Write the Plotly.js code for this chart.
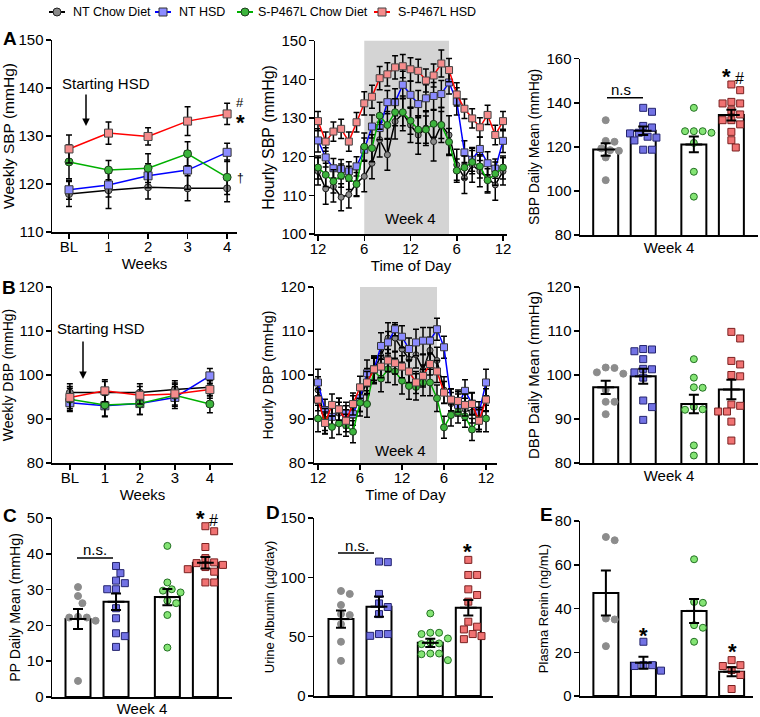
<!DOCTYPE html>
<html>
<head>
<meta charset="utf-8">
<script src="https://cdn.plot.ly/plotly-3.0.1.min.js"></script>
<style>body{margin:0;background:#fff}#chart{width:760px;height:717px}</style>
</head>
<body>
<div id="chart"></div>
<script>
// ---------- data (group order: NT Chow, NT HSD, S-P467L Chow, S-P467L HSD) ----------
var groups = ['NT Chow Diet', 'NT HSD', 'S-P467L Chow Diet', 'S-P467L HSD'];
var weeks = ['BL', '1', '2', '3', '4'];
var hourTicks = [0, 6, 12, 18, 24];
var hourLabels = ['12', '6', '12', '6', '12'];
var nightStart = 6, nightEnd = 17;

// A: weekly SBP
var sbpWeekMean = [
  [117.9, 118.7, 119.3, 119.1, 119.1],
  [118.8, 119.8, 121.7, 122.9, 126.6],
  [124.6, 122.9, 123.3, 126.3, 121.4],
  [127.3, 130.6, 129.9, 133.1, 134.6]
];
var sbpWeekSem = [
  [2.6, 3.8, 2.4, 2.6, 2.8],
  [2.0, 2.5, 2.5, 4.0, 1.9],
  [3.5, 2.0, 3.0, 2.5, 3.6],
  [2.9, 2.3, 1.8, 3.0, 2.2]
];

// A: hourly SBP, week 4 (noon to noon)
var sbpHourNtChow = [116.2,111.7,112.3,109.5,110.2,113.2,114.9,118.3,124.4,120.5,129.1,131.2,128.2,125.6,127.4,123.9,128.2,125.6,117.9,114.5,117.9,116.2,114.6,112.7,116.2];
var sbpHourNtHsd  = [124.2,119.8,117.0,116.8,116.2,117.5,121.8,127.8,127.4,134.1,134.1,138.6,136.0,133.6,135.1,135.7,136.2,139.2,134.3,121.1,119.2,122.0,118.3,116.9,124.1];
var sbpHourSChow  = [117.2,115.3,113.6,115.1,114.5,112.9,122.6,122.2,130.6,128.2,131.5,131.5,129.3,127.0,127.0,128.5,128.2,123.8,116.4,117.2,118.6,117.5,113.9,115.6,117.2];
var sbpHourSHsd   = [129.2,123.9,126.5,127.2,123.9,128.9,133.8,135.5,140.3,141.3,143.1,143.4,142.6,142.2,139.7,141.0,144.1,142.4,136.1,132.4,129.9,127.6,130.8,125.6,129.2];
var sbpHourSemNtChow = [3.5,4,4,3.5,3.5,3.5,4,4,4.5,4,4.5,4.5,4.5,5,4.5,5,4.5,5,4,4,4.5,4,4,4,3.5];
var sbpHourSemNtHsd  = [3,2.5,2.5,2.5,2.5,2.5,3,3,3,3,3.5,3.5,3.5,3.5,3.5,3.5,3.5,3,3.5,3,3,3,3,2.5,3];
var sbpHourSemSChow  = [3,3,3,3,3,3,3.5,3.5,3.5,3.5,3.5,3.5,3.5,3.5,3.5,3.5,3.5,3.5,3,3,3,3,3,3,3];
var sbpHourSemSHsd   = [2.5,2.5,2.5,2.5,2.5,2.5,3,3,3,3,3,3,3,3,3,3,3.5,3,3,2.5,2.5,2.5,2.5,2.5,2.5];

// A: SBP daily mean, week 4
var sbpDayNtChow = [132.1,122.7,122.3,119.3,118.5,118.2,115.2,104.9];
var sbpDayNtHsd  = [137.7,135.9,129.5,128.8,126.4,126.1,124.6,124.2,122.9,118.7,118.7];
var sbpDaySChow  = [137.7,127.1,127.1,127.1,126.4,121.8,108.7,97.4];
var sbpDaySHsd   = [148.3,145.7,140.4,139.7,139.7,136.6,134.7,132.1,132.1,130.2,126.8,123.0,119.7];
var sbpDayMean = [118.8, 127.3, 121.1, 134.4];
var sbpDaySem  = [2.8, 1.9, 3.6, 2.4];

// B: weekly DBP
var dbpWeekMean = [
  [96.0, 96.0, 96.0, 96.7, 97.2],
  [93.7, 93.0, 93.5, 94.9, 99.8],
  [94.5, 93.2, 93.5, 95.4, 93.4],
  [94.9, 96.4, 95.4, 95.7, 96.7]
];
var dbpWeekSem = [
  [2.0, 2.5, 2.0, 2.0, 2.0],
  [2.0, 2.5, 2.5, 2.5, 1.7],
  [2.5, 2.5, 2.5, 2.5, 2.0],
  [2.5, 2.5, 2.0, 2.5, 2.0]
];

// B: hourly DBP, week 4
var dbpHourNtChow = [96.6,89.7,90.5,91.3,90.5,92.8,94.7,98.5,101.3,104.3,108.4,108.4,105.9,103.6,104.6,101.1,105.6,103.3,96.6,93.5,93.7,92.2,91.6,90.1,94.7];
var dbpHourNtHsd  = [98.3,92.0,90.5,92.2,91.3,91.1,94.7,100.4,101.3,106.6,107.4,110.4,108.7,105.9,107.4,107.8,107.8,110.4,106.3,94.3,93.2,96.4,93.5,91.4,98.3];
var dbpHourSChow  = [90.1,89.9,88.2,89.0,88.6,87.1,93.7,93.4,101.0,99.2,101.3,100.8,98.7,97.5,97.3,98.3,98.3,94.7,88.1,90.9,91.6,90.6,87.6,90.1,90.1];
var dbpHourSHsd   = [94.4,89.1,93.2,92.2,89.6,93.4,97.2,98.3,101.3,101.9,103.3,102.7,101.9,100.8,98.3,99.8,102.5,100.8,96.0,94.4,94.1,93.2,93.4,89.6,94.4];
var dbpHourSemNtChow = [3,3,2.5,2.5,2.5,2.5,3,3,3,3,3.5,3,3,3,3,3.5,3,3,3,2.5,2.5,2.5,2.5,2.5,3];
var dbpHourSemNtHsd  = [3,2.5,2.5,2.5,2.5,2.5,3,3,3,3,2.5,1.5,2.5,2.5,3,3,3,2.5,2.5,2.5,2.5,2.5,2.5,2.5,3];
var dbpHourSemSChow  = [3,2.5,2.5,2.5,2.5,2.5,3,3,3,3,3,3,3,3,3,3,3,3,2.5,2.5,2.5,2.5,2.5,2.5,3];
var dbpHourSemSHsd   = [2.5,2.5,2.5,2.5,2.5,2.5,2.5,2.5,2.5,2.5,2.5,2.5,2.5,2.5,2.5,2.5,2.5,2.5,2.5,2.5,2.5,2.5,2.5,2.5,2.5];

// B: DBP daily mean, week 4
var dbpDayNtChow = [101.6,101.7,100.3,100.6,96.6,93.9,93.9,91.1];
var dbpDayNtHsd  = [105.4,105.8,105.9,103.6,100.6,101.4,101.3,99.4,94.2,92.7,89.8];
var dbpDaySChow  = [103.6,99.4,97.1,97.2,92.2,92.8,92.1,84.0,81.7];
var dbpDaySHsd   = [109.8,108.3,103.2,102.4,99.7,100.0,93.0,93.3,91.7,91.7,89.4,85.1];
var dbpDayMean = [97.2, 99.7, 93.4, 96.7];
var dbpDaySem  = [1.5, 1.7, 2.1, 2.2];

// C: pulse pressure daily mean
var ppNtChow = [30.7,28.2,26.2,22.2,22.4,22.2,21.3,4.5];
var ppNtHsd  = [36.6,34.6,32.5,31.8,30.1,30.1,24.8,22.0,17.8,17.0,14.0];
var ppSChow  = [42.2,32.0,30.1,29.7,29.2,26.9,26.2,22.9,13.8];
var ppSHsd   = [47.7,46.3,41.9,38.8,37.6,37.4,36.9,36.3,35.7,35.0,32.0,32.0];
var ppMean = [21.8, 26.6, 27.9, 37.5];
var ppSem  = [2.8, 2.3, 2.3, 1.6];

// D: urine albumin
var albNtChow = [88.5,86.0,76.7,69.0,68.2,60.6,45.7,29.6];
var albNtHsd  = [113.3,112.8,86.0,78.0,75.0,69.0,52.2,52.2,50.7];
var albSChow  = [69.6,53.3,53.3,52.2,48.5,45.0,44.3,43.7,35.8,35.8,35.2,30.2];
var albSHsd   = [114.7,102.0,102.0,89.9,85.1,79.5,62.6,58.4,56.1,52.2,50.5,47.9];
var albMean = [64.8, 75.3, 44.8, 74.4];
var albSem  = [7.3, 8.5, 3.5, 6.6];

// E: plasma renin
var reninNtChow = [72.7,71.2,35.4,35.0,22.8];
var reninNtHsd  = [24.8,14.1,14.1,13.7,11.6];
var reninSChow  = [62.5,43.0,42.6,32.4,31.2,24.8];
var reninSHsd   = [16.4,14.1,13.7,11.9,9.6,3.2];
var reninMean = [47.1, 15.2, 38.9, 11.1];
var reninSem  = [10.3, 2.7, 5.5, 2.1];

// ---------- styles / layout helpers ----------
var W = 760, H = 717;
var FONT = 'Liberation Sans, Arial, sans-serif';
var lineColor = ['#000000', '#0000ff', '#00b000', '#ff0000'];
var lineSymbol = ['circle', 'square', 'circle', 'square'];
var lineFill = ['#8a8a8a', '#8c8cff', '#3cb43c', '#f58c8c'];
var lineEdge = ['#222222', '#333333', '#1c3c1c', '#444444'];
var dotFill = ['#8c8c8c', '#7272e4', '#84e474', '#f07272'];
var dotEdge = ['#8c8c8c', '#24246e', '#237023', '#7a2020'];
var barX = [0, 1, 2.35, 3.35];
var hours = [];
for (var h = 0; h <= 24; h++) hours.push(h);

function xd(a, b) { return [a / W, b / W]; }
function yd(top, bottom) { return [1 - bottom / H, 1 - top / H]; }

var panels = {
  A1: {x: [52, 237], y: [40, 232],    xr: [-0.43, 4.25],  yr: [110, 150]},
  A2: {x: [315, 507], y: [40.7, 234], xr: [-0.39, 24.52], yr: [100, 150]},
  A3: {x: [580, 758], y: [58.7, 235], xr: [-0.685, 4.06], yr: [80, 160]},
  B1: {x: [52, 233], y: [287, 463],   xr: [-0.51, 4.66],  yr: [80, 120]},
  B2: {x: [314, 497], y: [287, 463],  xr: [-0.57, 25.57], yr: [80, 120]},
  B3: {x: [580, 758], y: [287, 463],  xr: [-0.685, 4.06], yr: [80, 120]},
  C:  {x: [52, 232], y: [518, 697],   xr: [-0.684, 4.05], yr: [0, 50]},
  D:  {x: [314, 493], y: [518, 696],  xr: [-0.71, 4.0],   yr: [0, 150]},
  E:  {x: [580, 753], y: [521, 696],  xr: [-0.69, 3.92],  yr: [0, 80]}
};

function lineTraces(means, sems, xs, xa, ya, size) {
  return means.map(function (m, g) {
    return {
      type: 'scatter', mode: 'lines+markers', x: xs, y: m, xaxis: xa, yaxis: ya,
      name: groups[g], showlegend: false, cliponaxis: false,
      line: {color: lineColor[g], width: 1.5},
      marker: {symbol: lineSymbol[g], size: g === 0 ? size - 1 : size, color: lineFill[g],
               line: {color: lineEdge[g], width: 1}},
      error_y: {type: 'data', array: sems[g], color: '#000', thickness: 1.5, width: 3}
    };
  });
}

// simple beeswarm so points in one column do not overlap
function swarm(values, p) {
  var pxPerY = (p.y[1] - p.y[0]) / (p.yr[1] - p.yr[0]);
  var pxPerX = (p.x[1] - p.x[0]) / (p.xr[1] - p.xr[0]);
  var d = 8, step = 4.4, placed = [], offs = [];
  var order = values.map(function (v, i) { return i; })
    .sort(function (a, b) { return values[b] - values[a]; });
  order.forEach(function (i) {
    var y = values[i] * pxPerY;
    for (var k = 0; k < 30; k++) {
      var c = k === 0 ? 0 : (k % 2 ? 1 : -1) * Math.ceil(k / 2) * step;
      var ok = placed.every(function (q) { return Math.hypot(q.x - c, q.y - y) >= d; });
      if (ok) { placed.push({x: c, y: y}); offs[i] = c / pxPerX; break; }
    }
  });
  return offs;
}

function barTraces(points, means, sems, xa, ya, p) {
  var pxPerX = (p.x[1] - p.x[0]) / (p.xr[1] - p.xr[0]);
  var out = [{
    type: 'bar', x: barX, y: means, width: 25 / pxPerX, xaxis: xa, yaxis: ya,
    showlegend: false, hoverinfo: 'skip',
    marker: {color: '#fff', line: {color: '#000', width: 2}}
  }];
  points.forEach(function (vals, g) {
    var offs = swarm(vals, p);
    out.push({
      type: 'scatter', mode: 'markers', xaxis: xa, yaxis: ya, showlegend: false, cliponaxis: false,
      x: vals.map(function (v, i) { return barX[g] + offs[i]; }), y: vals,
      marker: {symbol: g % 2 ? 'square' : 'circle', size: 7, color: dotFill[g],
               line: {color: dotEdge[g], width: 1}}
    });
  });
  out.push({
    type: 'scatter', mode: 'markers', x: barX, y: means, xaxis: xa, yaxis: ya, showlegend: false,
    marker: {symbol: 'line-ew', size: 12, color: '#000', line: {color: '#000', width: 2}},
    error_y: {type: 'data', array: sems, color: '#000', thickness: 2, width: 5}
  });
  return out;
}

var data = []
  .concat(lineTraces(sbpWeekMean, sbpWeekSem, [0, 1, 2, 3, 4], 'x', 'y', 8))
  .concat(lineTraces([sbpHourNtChow, sbpHourNtHsd, sbpHourSChow, sbpHourSHsd],
                     [sbpHourSemNtChow, sbpHourSemNtHsd, sbpHourSemSChow, sbpHourSemSHsd], hours, 'x2', 'y2', 7))
  .concat(barTraces([sbpDayNtChow, sbpDayNtHsd, sbpDaySChow, sbpDaySHsd], sbpDayMean, sbpDaySem, 'x3', 'y3', panels.A3))
  .concat(lineTraces(dbpWeekMean, dbpWeekSem, [0, 1, 2, 3, 4], 'x4', 'y4', 8))
  .concat(lineTraces([dbpHourNtChow, dbpHourNtHsd, dbpHourSChow, dbpHourSHsd],
                     [dbpHourSemNtChow, dbpHourSemNtHsd, dbpHourSemSChow, dbpHourSemSHsd], hours, 'x5', 'y5', 7))
  .concat(barTraces([dbpDayNtChow, dbpDayNtHsd, dbpDaySChow, dbpDaySHsd], dbpDayMean, dbpDaySem, 'x6', 'y6', panels.B3))
  .concat(barTraces([ppNtChow, ppNtHsd, ppSChow, ppSHsd], ppMean, ppSem, 'x7', 'y7', panels.C))
  .concat(barTraces([albNtChow, albNtHsd, albSChow, albSHsd], albMean, albSem, 'x8', 'y8', panels.D))
  .concat(barTraces([reninNtChow, reninNtHsd, reninSChow, reninSHsd], reninMean, reninSem, 'x9', 'y9', panels.E));

function axBase() {
  return {showline: true, linecolor: '#000', linewidth: 1.5, ticks: 'outside', ticklen: 5,
          tickwidth: 1.5, tickcolor: '#000', showgrid: false, zeroline: false,
          tickfont: {size: 15, color: '#000'}, fixedrange: true};
}
function xAxis(p, anchor, title, tickvals, ticktext) {
  var a = axBase();
  a.domain = xd(p.x[0], p.x[1]); a.range = p.xr; a.anchor = anchor;
  if (tickvals) {
    a.tickmode = 'array'; a.tickvals = tickvals; a.ticktext = ticktext; a.ticklabelstandoff = -5;
  } else { a.showticklabels = false; a.ticks = ''; }
  if (title) a.title = {text: title, font: {size: 15, color: '#000'}, standoff: tickvals ? 1 : 7};
  return a;
}
function yAxis(p, anchor, title, dtick, tsize) {
  var a = axBase();
  a.domain = yd(p.y[0], p.y[1]); a.range = p.yr; a.anchor = anchor; a.dtick = dtick;
  a.ticklabelstandoff = -1;
  a.title = {text: title, font: {size: tsize, color: '#000'}, standoff: 3};
  return a;
}

function txt(x, y, text, size, extra) {
  var a = {xref: 'paper', yref: 'paper', x: x / W, y: 1 - y / H, text: text, showarrow: false,
           xanchor: 'center', yanchor: 'middle', font: {size: size, color: '#000', family: FONT}};
  for (var k in extra) a[k] = extra[k];
  return a;
}
function arrow(x, yHead, yTail) {
  return {xref: 'paper', yref: 'paper', x: x / W, y: 1 - yHead / H, ax: 0, ay: yTail - yHead,
          axref: 'pixel', ayref: 'pixel', text: '', showarrow: true, arrowhead: 2,
          arrowsize: 1, arrowwidth: 1.5, arrowcolor: '#000', standoff: 0, startstandoff: 0};
}
function hline(x0, x1, y) {
  return {type: 'line', xref: 'paper', yref: 'paper', x0: x0 / W, x1: x1 / W, y0: 1 - y / H, y1: 1 - y / H,
          line: {color: '#000', width: 1.5}};
}
var star = '<b><span style="font-size:22px">*</span></b>';

// hand-placed legend row along the top
var legendSymbolX = [57, 163, 245, 382];
var legendTextX = [71, 177, 256, 396];
var legendY = 12;
var legendShapes = [], legendTexts = [];
groups.forEach(function (name, g) {
  var cx = legendSymbolX[g];
  legendShapes.push({type: 'line', xref: 'paper', yref: 'paper', x0: (cx - 8) / W, x1: (cx + 8) / W,
                     y0: 1 - legendY / H, y1: 1 - legendY / H, line: {color: lineColor[g], width: 2}});
  legendShapes.push({type: lineSymbol[g] === 'circle' ? 'circle' : 'rect', xref: 'paper', yref: 'paper',
                     x0: (cx - 4) / W, x1: (cx + 4) / W, y0: 1 - (legendY + 4) / H, y1: 1 - (legendY - 4) / H,
                     fillcolor: lineFill[g], line: {color: lineEdge[g], width: 1}});
  legendTexts.push(txt(legendTextX[g], legendY, name, 12.5, {xanchor: 'left'}));
});

var layout = {
  width: W, height: H, autosize: false,
  margin: {l: 0, r: 0, t: 0, b: 0},
  paper_bgcolor: '#fff', plot_bgcolor: 'rgba(0,0,0,0)',
  font: {family: FONT, color: '#000', size: 15},
  showlegend: false,
  xaxis:  xAxis(panels.A1, 'y', 'Weeks', [0, 1, 2, 3, 4], weeks),
  yaxis:  yAxis(panels.A1, 'x', 'Weekly SBP (mmHg)', 10, 15.5),
  xaxis2: xAxis(panels.A2, 'y2', 'Time of Day', hourTicks, hourLabels),
  yaxis2: yAxis(panels.A2, 'x2', 'Hourly SBP (mmHg)', 10, 16),
  xaxis3: xAxis(panels.A3, 'y3', 'Week 4'),
  yaxis3: yAxis(panels.A3, 'x3', 'SBP Daily Mean (mmHg)', 20, 14),
  xaxis4: xAxis(panels.B1, 'y4', 'Weeks', [0, 1, 2, 3, 4], weeks),
  yaxis4: yAxis(panels.B1, 'x4', 'Weekly DBP (mmHg)', 10, 14),
  xaxis5: xAxis(panels.B2, 'y5', 'Time of Day', hourTicks, hourLabels),
  yaxis5: yAxis(panels.B2, 'x5', 'Hourly DBP (mmHg)', 10, 14.2),
  xaxis6: xAxis(panels.B3, 'y6', 'Week 4'),
  yaxis6: yAxis(panels.B3, 'x6', 'DBP Daily Mean (mmHg)', 10, 15),
  xaxis7: xAxis(panels.C, 'y7', 'Week 4'),
  yaxis7: yAxis(panels.C, 'x7', 'PP Daily Mean (mmHg)', 10, 14.2),
  xaxis8: xAxis(panels.D, 'y8'),
  yaxis8: yAxis(panels.D, 'x8', 'Urine Albumin (µg/day)', 50, 13),
  xaxis9: xAxis(panels.E, 'y9'),
  yaxis9: yAxis(panels.E, 'x9', 'Plasma Renin (ng/mL)', 20, 13),
  shapes: [
    {type: 'rect', xref: 'x2', yref: 'y2 domain', x0: nightStart, x1: nightEnd, y0: 0, y1: 1,
     fillcolor: '#d4d4d4', line: {width: 0}, layer: 'below'},
    {type: 'rect', xref: 'x5', yref: 'y5 domain', x0: nightStart, x1: nightEnd, y0: 0, y1: 1,
     fillcolor: '#d4d4d4', line: {width: 0}, layer: 'below'},
    hline(607, 643, 97.7),
    hline(77, 113, 558),
    hline(338, 374, 553)
  ].concat(legendShapes),
  annotations: [
    txt(10, 39, '<b>A</b>', 19),
    txt(9, 288, '<b>B</b>', 19),
    txt(10, 515, '<b>C</b>', 19),
    txt(273, 512, '<b>D</b>', 19),
    txt(546, 514, '<b>E</b>', 19),
    txt(106, 83, 'Starting HSD', 15),
    arrow(86, 126, 93),
    txt(101, 328, 'Starting HSD', 15),
    arrow(83, 379, 340),
    txt(240, 103, '#', 13),
    txt(240, 122, star, 15),
    txt(240, 178, '†', 12),
    txt(410, 218, 'Week 4', 15),
    txt(400, 450, 'Week 4', 15),
    txt(621, 89, 'n.s', 15),
    txt(733, 76, star + ' #', 16),
    txt(95, 549, 'n.s.', 15),
    txt(207, 518, star + ' #', 16),
    txt(357, 545, 'n.s.', 15),
    txt(467, 551, star, 16),
    txt(643, 635, star, 16),
    txt(732, 651, star, 16)
  ].concat(legendTexts)
};

Plotly.newPlot('chart', data, layout, {displayModeBar: false, staticPlot: true});
</script>
</body>
</html>
